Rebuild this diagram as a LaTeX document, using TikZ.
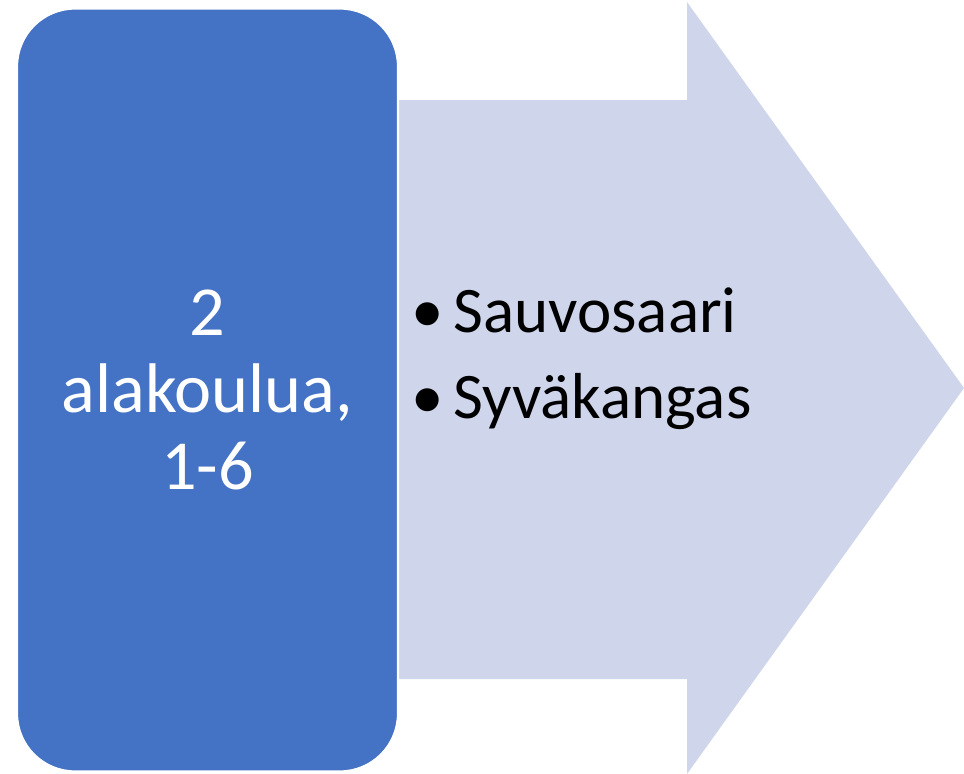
\documentclass[tikz,border=0pt]{standalone}
\usepackage{fontspec}
\setmainfont{Carlito}
\definecolor{boxblue}{HTML}{4472C4}
\definecolor{arrowfill}{HTML}{CFD5EA}
\tikzset{
  schoolbox/.style={fill=boxblue, draw=white, line width=1.2pt, rounded corners=1.16cm,
    minimum width=7.62cm, minimum height=15.26cm, text=white, align=center,
    font=\fontsize{40}{43.7}\selectfont, inner sep=0pt},
  listtext/.style={font=\fontsize{37}{40}\selectfont, text=black, inner sep=0pt}
}
\begin{document}
\begin{tikzpicture}[x=0.02cm, y=-0.02cm]
  \useasboundingbox (0,0) rectangle (964,774);

  % Define the outline of the big arrow
  \def\bigarrow{(300,100) -- (687,100) -- (687,2) -- (964,388) -- (687,774) -- (687,679) -- (300,679) -- cycle}

  % Arrow behind the box
  \fill[arrowfill] \bigarrow;

  % Box and its label
  \node[schoolbox] (koulut) at (207.5,390) {2\\alakoulua,\\1-6};

  % List of schools
  \node[listtext, anchor=base west] (sauvosaari) at (411,332) {\makebox[0.84cm][l]{•}Sauvosaari};
  \node[listtext, anchor=base west] (syvakangas) at (411,418) {\makebox[0.84cm][l]{•}Syväkangas};
\end{tikzpicture}
\end{document}
